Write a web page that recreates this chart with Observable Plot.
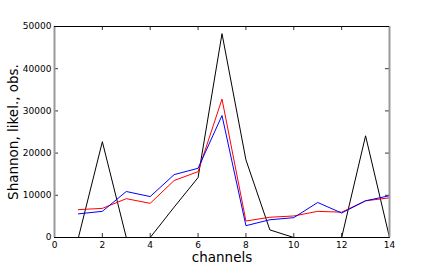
<!DOCTYPE html>
<html>
<head>
<meta charset="utf-8">
<script src="https://cdn.jsdelivr.net/npm/d3@7"></script>
<script src="https://cdn.jsdelivr.net/npm/@observablehq/plot@0.6"></script>
<style>
  html, body { margin: 0; padding: 0; background: #fff; }
  svg { display: block; }
</style>
</head>
<body>
<div id="chart"></div>
<script>
const channels = [1, 2, 3, 4, 5, 6, 7, 8, 9, 10, 11, 12, 13, 14];
const observed = [0, 22700, 0, 0, 7200, 14200, 48300, 18400, 1800, 0, 0, 0, 24100, 0];
const likelihood = [6600, 6900, 9200, 8100, 13500, 15600, 32800, 3900, 4800, 5100, 6200, 6000, 8700, 9400];
const shannon = [5600, 6200, 10900, 9700, 14900, 16400, 28900, 2800, 4200, 4700, 8300, 5800, 8700, 9900];
const xTicks = [0, 2, 4, 6, 8, 10, 12, 14];
const yTicks = [0, 10000, 20000, 30000, 40000, 50000];
const xLabel = "channels";
const yLabel = "Shannon, likel., obs.";

const series = [
  {name: "observed", values: observed, color: "#000000"},
  {name: "likelihood", values: likelihood, color: "#ff0000"},
  {name: "shannon", values: shannon, color: "#0000ff"}
];
const rows = series.flatMap(s => channels.map((c, i) => ({channel: c, value: s.values[i], series: s.name})));

const font = "DejaVu Sans, sans-serif";

const chart = Plot.plot({
  width: 432,
  height: 264,
  marginLeft: 54,
  marginRight: 43,
  marginTop: 26,
  marginBottom: 27,
  style: {fontFamily: font, background: "#fff", color: "#000"},
  x: {domain: [0, 14]},
  y: {domain: [0, 50000]},
  color: {domain: series.map(s => s.name), range: series.map(s => s.color)},
  marks: [
    // inward ticks
    Plot.ruleX(xTicks, {x: d => d, insetTop: 207, stroke: "#000", strokeWidth: 0.8}),
    Plot.ruleX(xTicks, {x: d => d, insetBottom: 207, stroke: "#000", strokeWidth: 0.8}),
    Plot.ruleY(yTicks, {y: d => d, insetRight: 331, stroke: "#000", strokeWidth: 0.8}),
    Plot.ruleY(yTicks, {y: d => d, insetLeft: 331, stroke: "#000", strokeWidth: 0.8}),
    Plot.axisX(xTicks, {tickSize: 0, tickPadding: 4, fontSize: 9, label: null, tickFormat: d => String(d)}),
    Plot.axisY(yTicks, {tickSize: 0, tickPadding: 3, fontSize: 9, label: null, tickFormat: d => String(d)}),
    Plot.line(rows, {x: "channel", y: "value", stroke: "series", z: "series", strokeWidth: 1}),
    // frame
    Plot.ruleX([0, 14], {x: d => d, stroke: "#999", strokeWidth: 2}),
    Plot.ruleY([0, 50000], {y: d => d, stroke: "#000", strokeWidth: 1}),
    Plot.text([xLabel], {text: d => d, frameAnchor: "bottom", textAnchor: "middle", lineAnchor: "middle", dy: 20.5, fontSize: 13.5, fill: "#000"}),
    Plot.text([yLabel], {text: d => d, frameAnchor: "left", textAnchor: "middle", lineAnchor: "middle", dx: -41, rotate: -90, fontSize: 13.5, fill: "#000"})
  ]
});
document.getElementById("chart").appendChild(chart);
</script>
</body>
</html>
